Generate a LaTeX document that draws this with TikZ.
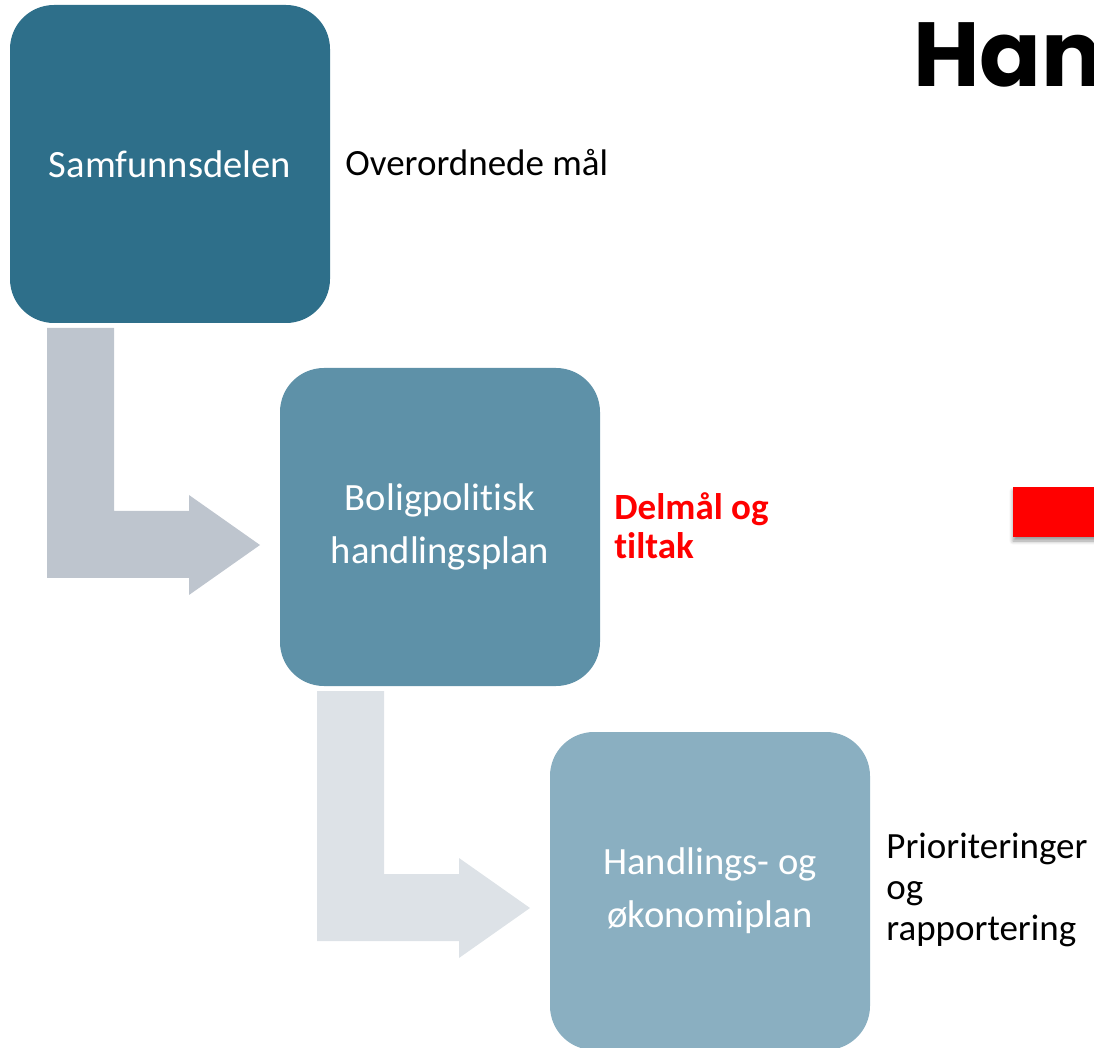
\documentclass[tikz,border=0pt]{standalone}
\usepackage{fontspec}
\setmainfont{Carlito}[Ligatures=NoCommon]
\newfontfamily\titlefont{Poppins}
\usepackage{tikz}
\usetikzlibrary{positioning, shadows.blur}

\definecolor{planA}{HTML}{2E6F8A}
\definecolor{planB}{HTML}{5E91A8}
\definecolor{planC}{HTML}{8AAFC1}
\definecolor{arrowA}{HTML}{BEC5CE}
\definecolor{arrowB}{HTML}{DDE2E7}

\tikzset{
  plan/.style={rounded corners=22pt, minimum width=160pt, minimum height=159pt,
    text=white, align=center, font=\fontsize{19.3}{26.5}\selectfont, inner sep=0pt},
  note/.style={anchor=west, align=left, inner sep=0pt, font=\fontsize{18.5}{20.5}\selectfont},
}

\begin{document}
\begin{tikzpicture}[x=0.5pt, y=-0.5pt]
    \useasboundingbox (0,0) rectangle (1094,1048);
    \clip (0,0) rectangle (1094,1048);

    % bent arrows between the plans
    \foreach \dx/\dy/\col in {0/0/arrowA, 270/363/arrowB}
      \fill[\col, shift={(\dx,\dy)}] (47,328) -- (114,328) -- (114,511) -- (189,511)
        -- (189,495) -- (260,545) -- (189,595) -- (189,578) -- (47,578) -- cycle;

    \node[plan, fill=planA] (samf)  at (170,164) {Samfunnsdelen};
    \node[plan, fill=planB] (bolig) at (440,527) {Boligpolitisk\\handlingsplan};
    \node[plan, fill=planC] (hok)   at (710,891) {Handlings- og\\økonomiplan};

    \node[note] (maal)   at (345,163) {Overordnede mål};
    \node[note, text=red, font=\fontsize{18.5}{19.5}\selectfont\bfseries] (delmaal) at (614,526) {Delmål og\\tiltak};
    \node[note] (prio)   at (886,890) {Prioriteringer\\og\\rapportering};

    \node[anchor=base west, inner sep=0pt, font=\titlefont\bfseries\fontsize{45.5}{50}\selectfont] (title) at (913,87) {Han};

    \fill[red, blur shadow={shadow xshift=0pt, shadow yshift=-2pt, shadow blur steps=6}] (1013,487) rectangle (1110,537);
\end{tikzpicture}
\end{document}
